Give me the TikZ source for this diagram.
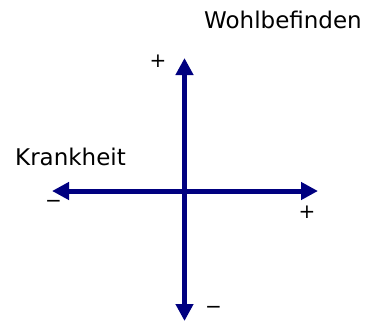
\documentclass[tikz,border=0pt]{standalone}
\usepackage{fontspec}
\setmainfont{DejaVu Sans}
\usetikzlibrary{arrows.meta, positioning}
\definecolor{axisblue}{RGB}{0,0,128}
\tikzset{
    axis_line/.style={
        {Triangle[length=17pt, width=17pt]}-{Triangle[length=17pt, width=17pt]},
        draw=axisblue,
        line width=5pt
    },
    axis_title/.style={
        font=\fontsize{23}{27}\selectfont,
        anchor=base west,
        inner sep=0pt
    },
    axis_sign/.style={
        font=\fontsize{20}{24}\selectfont,
        inner sep=0pt
    }
}
\begin{document}
\begin{tikzpicture}[x=1pt, y=-1pt]
\useasboundingbox (0,0) rectangle (372,322);

% Axis ends
\coordinate (axLeft) at (52,191);
\coordinate (axRight) at (318,191);
\coordinate (axTop) at (184.5,58);
\coordinate (axBottom) at (184.5,321);

% Axes
\draw[axis_line] (axLeft) -- (axRight);
\draw[axis_line] (axBottom) -- (axTop);

% Titles
\node[axis_title] (wohl) at (204,28.3) {Wohlbefinden};
\node[axis_title] (krank) at (15,165) {Krankheit};

% Signs
\node[axis_sign] (topPlus) at (158,61) {+};
\node[axis_sign] (bottomMinus) at (213.5,309.5) {−};
\node[axis_sign] (leftMinus) at (53.5,204) {−};
\node[axis_sign] (rightPlus) at (307,212) {+};

\end{tikzpicture}
\end{document}
